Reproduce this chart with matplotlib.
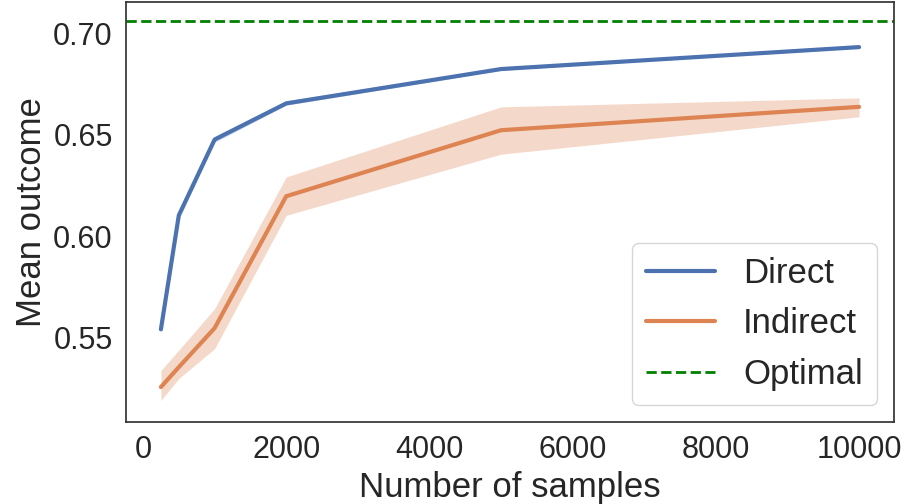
import numpy as np
import seaborn as sns
from matplotlib import pyplot as plt

sns.set_theme(style='white', font_scale=2)
plt.rcParams['font.family'] = ['Liberation Sans', 'DejaVu Sans']

n_samples = [250, 500, 1000, 2000, 5000, 10000]

direct_mean = [0.5542, 0.6103, 0.6476, 0.6654, 0.6823, 0.6931]
direct_lo = [0.5537, 0.6085, 0.6462, 0.6645, 0.6817, 0.6927]
direct_hi = [0.5547, 0.6122, 0.6492, 0.6667, 0.6830, 0.6936]

indirect_mean = [0.5258, 0.5356, 0.5548, 0.6197, 0.6522, 0.6637]
indirect_lo = [0.5192, 0.5300, 0.5447, 0.6103, 0.6404, 0.6588]
indirect_hi = [0.5340, 0.5440, 0.5644, 0.6292, 0.6637, 0.6681]

optimal = 0.7059

fig, ax = plt.subplots(figsize=(9.1, 5.04), dpi=100)
fig.subplots_adjust(left=126/910, right=894/910, top=1-2/504, bottom=1-422/504)

blue, orange = sns.color_palette()[0], sns.color_palette()[1]
ax.plot(n_samples, direct_mean, color=blue, lw=3, label='Direct')
ax.fill_between(n_samples, direct_lo, direct_hi, color=blue, alpha=0.25, lw=0)
ax.plot(n_samples, indirect_mean, color=orange, lw=3, label='Indirect')
ax.fill_between(n_samples, indirect_lo, indirect_hi, color=orange, alpha=0.3, lw=0)
ax.axhline(optimal, color='green', ls='--', lw=2, label='Optimal')

ax.set_xlim(-237.5, 10487.5)
ax.set_ylim(0.5086, 0.7153)
ax.set_yticks([0.55, 0.60, 0.65, 0.70])
ax.set_xlabel('Number of samples', fontsize=25)
ax.set_ylabel('Mean outcome', fontsize=25)
for s in ax.spines.values():
    s.set_color('#333333')
ax.legend(loc='lower right', fontsize=25)
plt.savefig('out.png', dpi=100)
